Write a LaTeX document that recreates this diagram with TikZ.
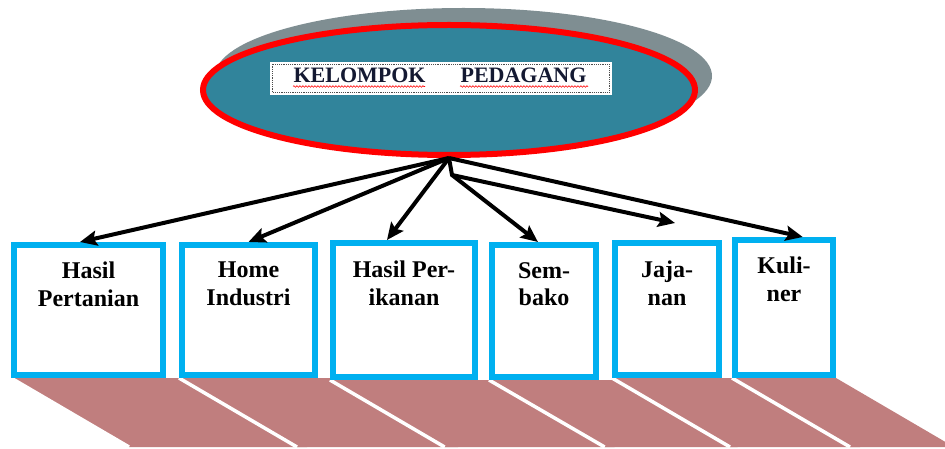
\documentclass[tikz,border=0pt]{standalone}
\usepackage{fontspec}
\setmainfont{Liberation Serif}
\usetikzlibrary{shapes.geometric,arrows.meta,calc,decorations.pathmorphing}
\definecolor{cyanb}{RGB}{0,176,240}
\definecolor{tealf}{RGB}{49,132,155}
\definecolor{shadowg}{RGB}{127,142,146}
\definecolor{brownp}{RGB}{192,126,126}
\definecolor{titlec}{RGB}{20,25,50}
\begin{document}
\begin{tikzpicture}[x=1pt,y=-1pt,
  box/.style={draw=cyanb, line width=6pt, fill=white, inner sep=0pt},
  lbl/.style={font=\fontsize{24}{27.5}\selectfont\bfseries, align=center, anchor=north, inner sep=0pt},
  arr/.style={line width=4pt, line join=miter, -{Stealth[length=17pt,width=15pt,inset=3pt]}},
  plate/.style={fill=brownp},
  gap/.style={draw=white, line width=3.5pt},
  wavy/.style={red, line width=0.6pt, decorate, decoration={snake, amplitude=0.8pt, segment length=3pt}}]
\useasboundingbox (0,0) rectangle (945,449);
\clip (0,0) rectangle (945,449);

% brown plates
\fill[plate] (11,378) -- (189,378) -- (307,447) -- (129,447) -- cycle;
\draw[gap] (11,378) -- (129,447);
\fill[plate] (179,378) -- (340,378) -- (458,447) -- (297,447) -- cycle;
\draw[gap] (179,378) -- (297,447);
\fill[plate] (330,380) -- (499,380) -- (614.6,447) -- (444.6,447) -- cycle;
\draw[gap] (330,380) -- (444.6,447);
\fill[plate] (489,380) -- (622,380) -- (737.6,447) -- (604.6,447) -- cycle;
\draw[gap] (489,380) -- (604.6,447);
\fill[plate] (612,378) -- (742,378) -- (860,447) -- (730,447) -- cycle;
\draw[gap] (612,378) -- (730,447);
\fill[plate] (732,378) -- (836,378) -- (954,447) -- (850,447) -- cycle;
\draw[gap] (732,378) -- (850,447);

% top ellipse with shadow
\node[ellipse, fill=shadowg, minimum width=497pt, minimum height=136pt, inner sep=0pt] (shadow) at (463.5,76) {};
\node[ellipse, draw=red, line width=6pt, fill=tealf, minimum width=492pt, minimum height=130pt, inner sep=0pt] (ell) at (449,90) {};

% title box
\node[fill=white, minimum width=342pt, minimum height=33pt, inner sep=0pt] (tb) at (441,78.5) {};
\draw[densely dotted, line width=1.2pt, black!70] ($(tb.north west)+(2.5,2.5)$) rectangle ($(tb.south east)+(-2.5,-2.5)$);
\node[font=\fontsize{22}{26}\selectfont\bfseries, text=titlec, anchor=base, inner sep=0pt] (title) at (440,83) {KELOMPOK\hspace{35pt}PEDAGANG};
\draw[wavy] (293,86.5) -- (425,86.5);
\draw[wavy] (460,86.5) -- (588,86.5);

% boxes
\node[box, minimum width=149pt, minimum height=130pt] (b1) at (88.5,310) {};
\node[box, minimum width=133pt, minimum height=130pt] (b2) at (248.5,310) {};
\node[box, minimum width=142pt, minimum height=134pt] (b3) at (404,310) {};
\node[box, minimum width=104pt, minimum height=132pt] (b4) at (544,311) {};
\node[box, minimum width=104pt, minimum height=132pt] (b5) at (667,309) {};
\node[box, minimum width=98pt, minimum height=135pt] (b6) at (784,307.5) {};

\node[lbl] (t1) at (88.5,262) {Hasil\\Pertanian};
\node[lbl] (t2) at (248.5,262) {Home\\Industri};
\node[lbl] (t3) at (404,261) {Hasil Per-\\ikanan};
\node[lbl] (t4) at (544,262) {Sem-\\bako};
\node[lbl] (t5) at (667,261) {Jaja-\\nan};
\node[lbl] (t6) at (784,257) {Kuli-\\ner};

% connectors
\coordinate (j0) at (452,175);
\coordinate (j1) at (675,223);
\draw[arr] (ell.south) -- ($(b1.north west)!0.445!(b1.north east)$);
\draw[arr] (ell.south) -- (b2.north);
\draw[arr] (ell.south) -- ($(b3.north west)!0.385!(b3.north east)$);
\draw[arr] (ell.south) -- (j0) -- ($(b4.north west)!0.445!(b4.north east)$);
\draw[arr] (j0) -- (j1);
\draw[arr] (ell.south) -- ($(b6.north west)!0.68!(b6.north east)$);
\end{tikzpicture}
\end{document}
